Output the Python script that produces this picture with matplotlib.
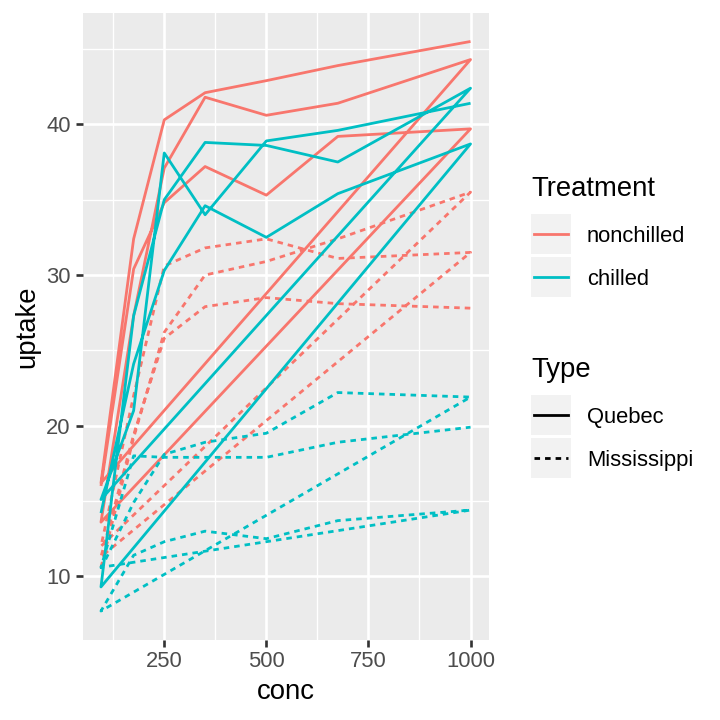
import numpy as np
import matplotlib
matplotlib.use('Agg')
import matplotlib.pyplot as plt
from matplotlib.lines import Line2D
from matplotlib.patches import Rectangle

plt.rcParams['font.family'] = ['Liberation Sans', 'DejaVu Sans']

# CO2 data, rows in data order (plant by plant)
conc = [95, 175, 250, 350, 500, 675, 1000]
plants = ['Qn1', 'Qn2', 'Qn3', 'Qc1', 'Qc2', 'Qc3',
          'Mn1', 'Mn2', 'Mn3', 'Mc1', 'Mc2', 'Mc3']
plant_type = ['Quebec'] * 6 + ['Mississippi'] * 6
plant_treat = (['nonchilled'] * 3 + ['chilled'] * 3) * 2
uptake = [
    [16.0, 30.4, 34.8, 37.2, 35.3, 39.2, 39.7],
    [13.6, 27.3, 37.1, 41.8, 40.6, 41.4, 44.3],
    [16.2, 32.4, 40.3, 42.1, 42.9, 43.9, 45.5],
    [14.2, 24.1, 30.3, 34.6, 32.5, 35.4, 38.7],
    [9.3, 27.3, 35.0, 38.8, 38.6, 37.5, 42.4],
    [15.1, 21.0, 38.1, 34.0, 38.9, 39.6, 41.4],
    [10.6, 19.2, 26.2, 30.0, 30.9, 32.4, 35.5],
    [12.0, 22.0, 30.6, 31.8, 32.4, 31.1, 31.5],
    [11.3, 19.4, 25.8, 27.9, 28.5, 28.1, 27.8],
    [10.5, 14.9, 18.1, 18.9, 19.5, 22.2, 21.9],
    [7.7, 11.4, 12.3, 13.0, 12.5, 13.7, 14.4],
    [10.6, 18.0, 17.9, 17.9, 17.9, 18.9, 19.9],
]

treatments = ['nonchilled', 'chilled']
types = ['Quebec', 'Mississippi']
colors = {'nonchilled': '#F8766D', 'chilled': '#00BFC4'}
styles = {'Quebec': '-', 'Mississippi': (0, (2.0, 1.8))}

W = H = 720
fig = plt.figure(figsize=(7.2, 7.2), dpi=100)

def fx(px):
    return px / W

def fy(py):
    return 1 - py / H

left, right, top, bottom = 82.5, 489, 13, 639.5
ax = fig.add_axes([fx(left), fy(bottom), fx(right - left), (bottom - top) / H])
ax.set_facecolor('#EBEBEB')

lw = 2.0
# geom_path: one path per Treatment x Type group, in data order
for tr in treatments:
    for ty in types:
        xs, ys = [], []
        for i in range(len(plants)):
            if plant_treat[i] == tr and plant_type[i] == ty:
                xs += conc
                ys += uptake[i]
        ax.plot(xs, ys, color=colors[tr], linestyle=styles[ty], lw=lw,
                solid_capstyle='butt', dash_capstyle='butt', zorder=3)

xmin, xmax = min(conc), max(conc)
allu = np.array(uptake)
ymin, ymax = allu.min(), allu.max()
ax.set_xlim(xmin - 0.05 * (xmax - xmin), xmax + 0.05 * (xmax - xmin))
ax.set_ylim(ymin - 0.05 * (ymax - ymin), ymax + 0.05 * (ymax - ymin))

ax.set_xticks([250, 500, 750, 1000])
ax.set_xticks([125, 375, 625, 875], minor=True)
ax.set_yticks([10, 20, 30, 40])
ax.set_yticks([15, 25, 35, 45], minor=True)
ax.grid(which='major', color='white', lw=1.92, zorder=1)
ax.grid(which='minor', color='white', lw=0.96, zorder=1)
ax.set_axisbelow(True)
for s in ax.spines.values():
    s.set_visible(False)
ax.tick_params(which='major', length=4.95, width=1.92, color='#333333',
               labelsize=15.84, labelcolor='#4D4D4D', pad=3.6)
ax.tick_params(which='minor', length=0)

fig.text(fx((left + right) / 2), fy(699), 'conc', fontsize=19.8,
         ha='center', va='baseline')
fig.text(fx(27.5), fy((top + bottom) / 2), 'uptake', fontsize=19.8,
         rotation=90, ha='center', va='center')

# legends
def legend_block(title, title_y, labels, key_tops, key_colors, key_styles):
    fig.text(fx(531), fy(title_y), title, fontsize=19.8, ha='left',
             va='baseline')
    for lab, kt, c, st in zip(labels, key_tops, key_colors, key_styles):
        fig.add_artist(Rectangle((fx(531), fy(kt + 40)), 40 / W, 40 / H,
                                 transform=fig.transFigure,
                                 facecolor='#F2F2F2', edgecolor='none'))
        fig.add_artist(Line2D([fx(534), fx(568)], [fy(kt + 20)] * 2,
                              transform=fig.transFigure, color=c,
                              linestyle=st, lw=lw))
        fig.text(fx(587), fy(kt + 20), lab, fontsize=15.84, ha='left',
                 va='center_baseline')

legend_block('Treatment', 196, treatments, [214, 257],
             [colors[t] for t in treatments], ['-', '-'])
legend_block('Type', 377, types, [395, 438],
             ['black', 'black'], [styles[t] for t in types])

fig.savefig('out.png', dpi=100)
